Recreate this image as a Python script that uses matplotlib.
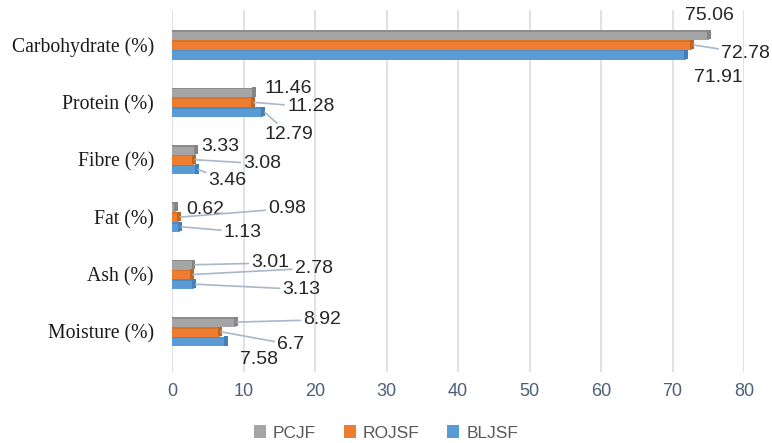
import matplotlib
matplotlib.use("Agg")
import matplotlib.pyplot as plt
import numpy as np

# Proximate composition of the three flours
categories = ["Moisture (%)", "Ash (%)", "Fat (%)", "Fibre (%)", "Protein (%)", "Carbohydrate (%)"]
series_names = ["PCJF", "ROJSF", "BLJSF"]
pcjf = [8.92, 3.01, 0.62, 3.33, 11.46, 75.06]
rojsf = [6.7, 2.78, 0.98, 3.08, 11.28, 72.78]
bljsf = [7.58, 3.13, 1.13, 3.46, 12.79, 71.91]
x_ticks = [0, 10, 20, 30, 40, 50, 60, 70, 80]

colors = {"PCJF": "#A5A5A5", "ROJSF": "#ED7D31", "BLJSF": "#5B9BD5"}
caps = {"PCJF": "#858585", "ROJSF": "#C4651F", "BLJSF": "#437FB8"}
edges = {"PCJF": "#8C8C8C", "ROJSF": "#DB7229", "BLJSF": "#4D8CC6"}

# label text positions (x, y in data units); connect=True draws a leader line
label_pos = {
    "PCJF": [(21.0, 0.21, True), (13.7, 1.20, True), (4.6, 2.14, False),
             (6.7, 3.23, False), (16.2, 4.25, False), (75.2, 5.52, False)],
    "ROJSF": [(16.6, -0.22, True), (19.8, 1.11, True), (16.1, 2.15, True),
              (12.6, 2.93, True), (19.4, 3.92, True), (80.2, 4.86, True)],
    "BLJSF": [(12.1, -0.48, False), (18.1, 0.74, True), (9.9, 1.74, True),
              (7.8, 2.64, True), (16.4, 3.44, True), (76.4, 4.44, False)],
}

fig = plt.figure(figsize=(7.72, 4.43), dpi=100)
ax = fig.add_axes([172 / 772, 1 - 372 / 443, (744 - 172) / 772, (372 - 10) / 443])

y = np.arange(len(categories))
h = 0.17
offsets = {"PCJF": h, "ROJSF": 0.0, "BLJSF": -h}
data = {"PCJF": pcjf, "ROJSF": rojsf, "BLJSF": bljsf}
cap_w = 0.55

for name in series_names:
    vals = np.array(data[name])
    yy = y + offsets[name]
    ax.barh(yy, vals, height=h, color=colors[name], edgecolor="none", zorder=3,
            label=name)
    # darker top edge and end cap give the bars a bevelled look
    ax.barh(yy + h * 0.42, vals, height=h * 0.16, color=edges[name], zorder=3.2)
    ax.barh(yy + h * 0.05, np.full_like(vals, cap_w), left=vals - cap_w * 0.5,
            height=h * 0.95, color=caps[name], zorder=3.3)

for name in series_names:
    vals = data[name]
    for i, v in enumerate(vals):
        tx, ty, conn = label_pos[name][i]
        yy = y[i] + offsets[name]
        kw = {}
        if conn:
            kw["arrowprops"] = dict(arrowstyle="-", color="#A9B7C9", lw=1.2,
                                    shrinkA=0, shrinkB=0)
        ax.annotate(f"{v:g}", xy=(v + cap_w * 0.3, yy), xytext=(tx, ty),
                    textcoords="data", ha="center", va="center",
                    fontsize=14, family="Liberation Sans", color="#262626",
                    zorder=5, annotation_clip=False, **kw)

ax.set_xlim(0, 80)
ax.set_ylim(-0.7, 5.61)
ax.set_xticks(x_ticks)
ax.set_xticklabels([str(t) for t in x_ticks], fontsize=13,
                   family="Liberation Sans", color="#4E5F7A")
ax.set_yticks(y)
ax.set_yticklabels(categories, fontsize=14.2, family="Liberation Serif",
                   color="#1A1A1A")
ax.tick_params(axis="both", length=0)
ax.tick_params(axis="x", pad=8)
ax.tick_params(axis="y", pad=13)
ax.grid(axis="x", color="#D9DEE8", lw=1.3, zorder=0)
ax.set_axisbelow(True)
for s in ax.spines.values():
    s.set_visible(False)

handles, labels = ax.get_legend_handles_labels()
fig.legend(handles, labels, loc="center", bbox_to_anchor=(0.5, 1 - 433 / 443),
           ncol=3, frameon=False, handlelength=0.7,
           handleheight=0.7, handletextpad=0.4, columnspacing=1.6,
           prop={"family": "Liberation Sans", "size": 12.5})
for t in fig.legends[0].get_texts():
    t.set_color("#595959")

fig.savefig("out.png", dpi=100)
